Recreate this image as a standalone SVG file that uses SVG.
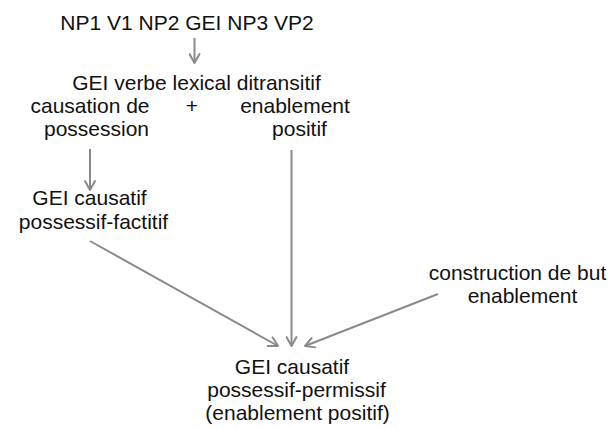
<svg xmlns="http://www.w3.org/2000/svg" width="615" height="427" viewBox="0 0 615 427">
  <style>
    .t { font-family: "Liberation Sans", Arial, sans-serif; font-size: 21px; fill: #111; text-anchor: middle; }
    .c { stroke: #8a8a8a; stroke-width: 2; fill: none; }
  </style>
  <defs>
    <marker id="ah" viewBox="0 0 12 12" refX="11" refY="6" markerWidth="12" markerHeight="12" markerUnits="userSpaceOnUse" orient="auto">
      <path d="M2,1 L11,6 L2,11" fill="none" stroke="#8a8a8a" stroke-width="2" stroke-linecap="round" stroke-linejoin="round"/>
    </marker>
  </defs>
  <rect width="615" height="427" fill="#ffffff"/>

  <g id="connectors">
    <line class="c" x1="194.5" y1="38" x2="194.5" y2="63" marker-end="url(#ah)"/>
    <line class="c" x1="90" y1="149" x2="90" y2="190" marker-end="url(#ah)"/>
    <line class="c" x1="291.5" y1="150" x2="291.5" y2="346" marker-end="url(#ah)"/>
    <line class="c" x1="90" y1="241" x2="278" y2="346" marker-end="url(#ah)"/>
    <line class="c" x1="438" y1="294" x2="305" y2="346" marker-end="url(#ah)"/>
  </g>

  <g id="n-source">
    <text class="t" x="187" y="30">NP1 V1 NP2 GEI NP3 VP2</text>
  </g>
  <g id="n-verbe">
    <text class="t" x="196.5" y="90">GEI verbe lexical ditransitif</text>
    <text class="t" x="192" y="113">+</text>
  </g>
  <g id="n-causation">
    <text class="t" x="90" y="113">causation de</text>
    <text class="t" x="96.5" y="136">possession</text>
  </g>
  <g id="n-enablement">
    <text class="t" x="295" y="113">enablement</text>
    <text class="t" x="299.5" y="136">positif</text>
  </g>
  <g id="n-factitif">
    <text class="t" x="89.5" y="205">GEI causatif</text>
    <text class="t" x="93.5" y="229">possessif-factitif</text>
  </g>
  <g id="n-but">
    <text class="t" x="517.5" y="280">construction de but</text>
    <text class="t" x="522.5" y="303">enablement</text>
  </g>
  <g id="n-permissif">
    <text class="t" x="292" y="374">GEI causatif</text>
    <text class="t" x="296.5" y="397">possessif-permissif</text>
    <text class="t" x="297.5" y="420">(enablement positif)</text>
  </g>
</svg>
